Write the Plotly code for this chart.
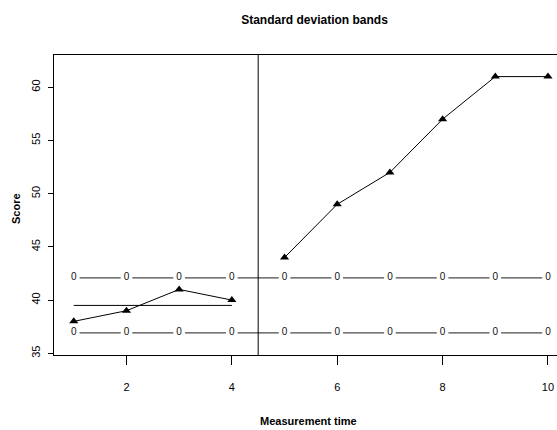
import numpy as np
import plotly.graph_objects as go

# Scores per measurement occasion
baseline_time = [1, 2, 3, 4]
baseline_score = [38, 39, 41, 40]
treatment_time = [5, 6, 7, 8, 9, 10]
treatment_score = [44, 49, 52, 57, 61, 61]

all_time = baseline_time + treatment_time
phase_change = 4.5

x_ticks = [2, 4, 6, 8, 10]
y_ticks = [35, 40, 45, 50, 55, 60]

# Baseline mean and +/- 2 SD bands
base_mean = float(np.mean(baseline_score))
base_sd = float(np.std(baseline_score, ddof=1))
upper_band = base_mean + 2 * base_sd
lower_band = base_mean - 2 * base_sd

FONT = "Liberation Sans Narrow, Arial Narrow, Liberation Sans, Arial, sans-serif"
BAND_COLOR = "#4a4a4a"
GAP = 0.11  # space left around each "0" symbol on the band lines


def broken_line(xs, level):
    """Segments between consecutive points, leaving room for the symbols."""
    sx, sy = [], []
    for a, b in zip(xs[:-1], xs[1:]):
        sx += [a + GAP, b - GAP, None]
        sy += [level, level, None]
    return sx, sy


fig = go.Figure()

for level in (upper_band, lower_band):
    sx, sy = broken_line(all_time, level)
    fig.add_trace(go.Scatter(x=sx, y=sy, mode="lines",
                             line=dict(color=BAND_COLOR, width=1.3),
                             hoverinfo="skip", showlegend=False))
    fig.add_trace(go.Scatter(x=all_time, y=[level] * len(all_time), mode="text",
                             text=["0"] * len(all_time), textposition="middle center",
                             textfont=dict(family=FONT, size=10, color="#111111"),
                             showlegend=False))

# Baseline mean line
fig.add_trace(go.Scatter(x=[baseline_time[0], baseline_time[-1]], y=[base_mean, base_mean],
                         mode="lines", line=dict(color="black", width=1),
                         showlegend=False))

for xs, ys in ((baseline_time, baseline_score), (treatment_time, treatment_score)):
    fig.add_trace(go.Scatter(x=xs, y=ys, mode="lines+markers",
                             line=dict(color="black", width=1),
                             marker=dict(symbol="triangle-up", size=8, color="black"),
                             showlegend=False))

fig.add_shape(type="line", x0=phase_change, x1=phase_change, y0=0, y1=1,
              xref="x", yref="paper", line=dict(color="black", width=1))

fig.update_layout(
    width=557, height=430,
    margin=dict(l=54, r=0, t=55, b=75),
    plot_bgcolor="white", paper_bgcolor="white",
    font=dict(family=FONT, color="black"),
    title=dict(text="<b>Standard deviation bands</b>", x=(314.5 - 54) / (557 - 54), xref="paper",
               xanchor="center", y=1 - 20 / 430, yanchor="middle",
               font=dict(family="Liberation Sans, Arial, sans-serif", size=12, color="black")),
    xaxis=dict(range=[0.625, 10.171], tickvals=x_ticks, ticktext=[str(v) for v in x_ticks],
               showgrid=False, zeroline=False, showline=True, mirror=True,
               linecolor="black", linewidth=1, ticks="outside", ticklen=9,
               tickcolor="black", tickwidth=1, ticklabelstandoff=13,
               tickfont=dict(family=FONT, size=11)),
    yaxis=dict(range=[34.84, 63.03], tickvals=y_ticks, ticktext=[str(v) for v in y_ticks],
               showgrid=False, zeroline=False, showline=True, mirror=False,
               linecolor="black", linewidth=1, ticks="outside", ticklen=5,
               tickcolor="black", tickwidth=1, tickangle=-90, ticklabelstandoff=4,
               tickfont=dict(family=FONT, size=11)),
    annotations=[
        dict(text="<b>Measurement time</b>", x=0.5, xref="paper", y=0, yref="paper",
             showarrow=False, font=dict(family=FONT, size=11), yanchor="middle"),
        dict(text="<b>Score</b>", x=0, xref="paper", y=0.5, yref="paper",
             showarrow=False, textangle=-90, font=dict(family=FONT, size=11),
             xanchor="center"),
    ],
)

# Place axis titles in pixel terms relative to the plot area
plot_w = 557 - 54
plot_h = 430 - 55 - 75
fig.layout.annotations[0].x = (308 - 54) / plot_w
fig.layout.annotations[0].y = -(421 - 355) / plot_h
fig.layout.annotations[1].x = -(54 - 16) / plot_w
fig.layout.annotations[1].y = (355 - 209) / plot_h

fig.write_html("out.html")
